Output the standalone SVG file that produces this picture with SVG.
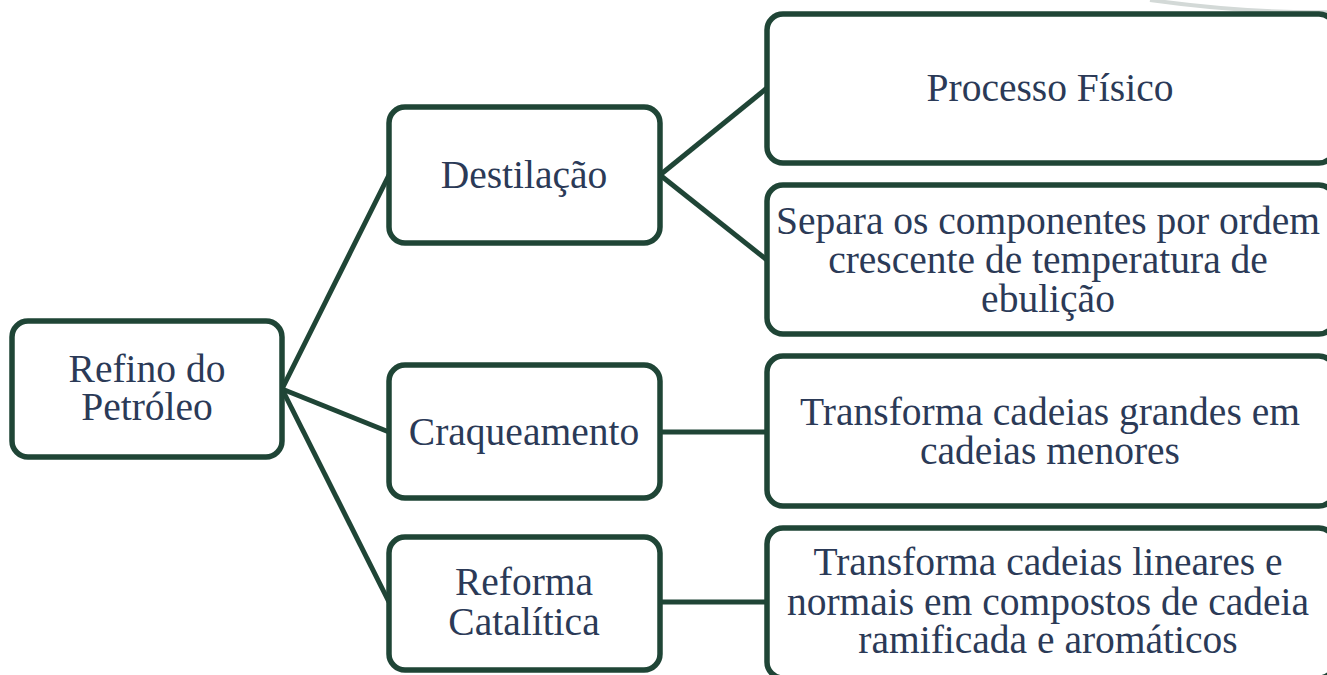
<svg xmlns="http://www.w3.org/2000/svg" width="1327" height="675" viewBox="0 0 1327 675">
<style>
.box{fill:#ffffff;stroke:#1f4536;stroke-width:5.5}
.ln{fill:none;stroke:#1f4536;stroke-width:5}
.t{font-family:"Liberation Serif","DejaVu Serif",serif;font-size:39.5px;fill:#2b3a57;text-anchor:middle}
</style>
<rect width="1327" height="675" fill="#ffffff"/>
<path d="M1150 0 Q1250 14 1340 12" fill="none" stroke="#d3d9d7" stroke-width="4"/>
<g id="connectors">
<line class="ln" x1="282" y1="389" x2="389" y2="175"/>
<line class="ln" x1="282" y1="389" x2="389" y2="432"/>
<line class="ln" x1="282" y1="389" x2="389" y2="602"/>
<line class="ln" x1="660" y1="175" x2="767" y2="88"/>
<line class="ln" x1="660" y1="175" x2="767" y2="260"/>
<line class="ln" x1="660" y1="432" x2="767" y2="432"/>
<line class="ln" x1="660" y1="602" x2="767" y2="602"/>
</g>
<g id="refino">
<rect class="box" x="12" y="321" width="270" height="136" rx="16"/>
<text class="t" x="147" y="382">Refino do</text>
<text class="t" x="147" y="420">Petróleo</text>
</g>
<g id="destilacao">
<rect class="box" x="389" y="107" width="271" height="136" rx="16"/>
<text class="t" x="524" y="188">Destilação</text>
</g>
<g id="craqueamento">
<rect class="box" x="389" y="365" width="271" height="133" rx="16"/>
<text class="t" x="524" y="445">Craqueamento</text>
</g>
<g id="reforma">
<rect class="box" x="389" y="537" width="271" height="133" rx="16"/>
<text class="t" x="524" y="595">Reforma</text>
<text class="t" x="524" y="635">Catalítica</text>
</g>
<g id="processo">
<rect class="box" x="767" y="14" width="568" height="149" rx="16"/>
<text class="t" x="1050" y="101">Processo Físico</text>
</g>
<g id="separa">
<rect class="box" x="767" y="185" width="568" height="149" rx="16"/>
<text class="t" x="1048" y="234">Separa os componentes por ordem</text>
<text class="t" x="1048" y="273">crescente de temperatura de</text>
<text class="t" x="1048" y="312">ebulição</text>
</g>
<g id="transforma1">
<rect class="box" x="767" y="356" width="568" height="150" rx="16"/>
<text class="t" x="1050" y="425">Transforma cadeias grandes em</text>
<text class="t" x="1050" y="464">cadeias menores</text>
</g>
<g id="transforma2">
<rect class="box" x="767" y="528" width="568" height="150" rx="16"/>
<text class="t" x="1048" y="575">Transforma cadeias lineares e</text>
<text class="t" x="1048" y="615">normais em compostos de cadeia</text>
<text class="t" x="1048" y="653">ramificada e aromáticos</text>
</g>
</svg>
